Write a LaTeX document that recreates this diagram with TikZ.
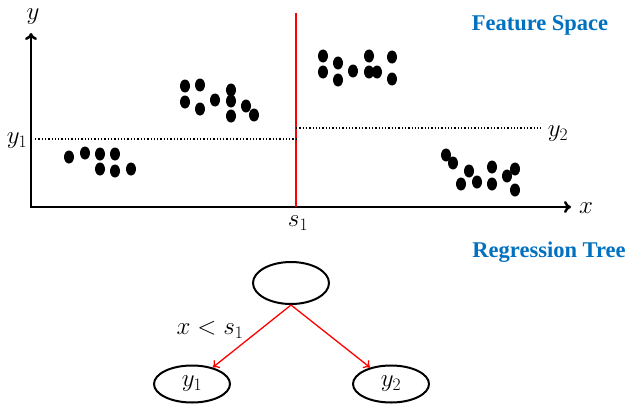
\documentclass[tikz,border=0pt]{standalone}
\usepackage{fix-cm}
\usepackage{fontspec}
\newfontfamily\titlefont{Liberation Serif}
\usetikzlibrary{arrows.meta, shapes.geometric, positioning, calc}
\definecolor{titleblue}{RGB}{0,112,192}

\begin{document}
\begin{tikzpicture}[x=1pt,y=-1pt,
	title/.style={font=\titlefont\bfseries\fontsize{22.5}{26}\selectfont, text=titleblue},
	lbl/.style={font=\fontsize{25}{28}\selectfont, inner sep=0pt},
	treenode/.style={ellipse, draw, line width=2pt, minimum width=76pt, minimum height=37pt, inner sep=0pt},
	split/.style={red, line width=1.3pt, -{To[length=6pt,width=10pt]}},
	sample/.style={black}]
				\useasboundingbox (0,0) rectangle (631,404);
				% feature space
				\draw[line width=2.5pt, line join=miter, {To[length=7pt,width=12pt]}-{To[length=7pt,width=12pt]}] (31,33) |- (571,207);
				\node[lbl] (ylab) at (33,17) {$y$};
				\node[lbl] (xlab) at (586,208) {$x$};
				\draw[red, line width=1.5pt] (296,13) -- (296,207);
				\draw[dotted, line width=1.3pt] (35,139) -- (296,139);
				\draw[dotted, line width=1.3pt] (296,128) -- (541,128);
				\node[lbl] (y1lab) at (17,141) {$y_1$};
				\node[lbl] (y2lab) at (558,134) {$y_2$};
				\node[lbl] (s1lab) at (298,223) {$s_1$};
				\foreach \p in {(69,157),(85,153),(100,154),(115,154),(100,169),(115,171),(131,169),
						(185,86),(200,85),(185,102),(200,109),(215,100),(231,90),(231,101),(231,116),(246,106),(254,115),
						(323,56),(323,72),(338,63),(338,80),(353,71),(369,56),(369,72),(377,72),(392,57),(392,79),
						(446,155),(453,163),(469,171),(492,167),(515,169),(507,176),(461,184),(477,182),(492,184),(515,190)}
					\fill[sample] \p ellipse (5 and 6.5);
				\node[title] (fspace) at (540,25) {Feature Space};
				% regression tree
				\node[treenode, minimum height=42pt] (root) at (291,283) {};
				\node[title] (rtree) at (549,252) {Regression Tree};
				\node[treenode] (left) at (192,384) {\fontsize{25}{28}\selectfont$y_1$};
				\node[treenode] (right) at (391,384) {\fontsize{25}{28}\selectfont$y_2$};
				\draw[split] (root.south) -- (left);
				\draw[split] (root.south) -- (right);
				\node[lbl] (cond) at (210,330) {$x<s_1$};
			\end{tikzpicture}
\end{document}
